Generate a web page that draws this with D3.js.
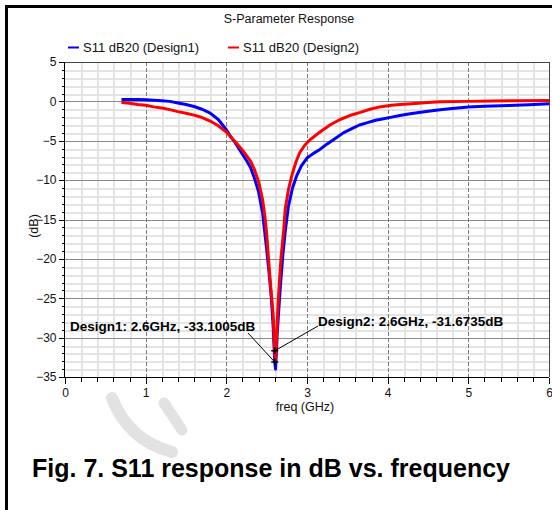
<!DOCTYPE html>
<meta charset="utf-8">
<html>
<style>
body { margin: 0; background: #fff; }
text { font-family: Arial, "Liberation Sans", sans-serif; }
.tick-label { font-size: 12px; fill: #111; }
.note { font-size: 13.5px; font-weight: bold; fill: #000; }
</style>
<svg width="552" height="510"></svg>
<script src="https://d3js.org/d3.v7.min.js"></script>
<script>
// S11 (dB) vs frequency
var freq1 = [0.70, 0.80, 0.90, 1.00, 1.10, 1.20, 1.30, 1.40, 1.50, 1.60, 1.70, 1.80, 1.90, 2.00, 2.05, 2.10,
  2.15, 2.20, 2.25, 2.30, 2.35, 2.40, 2.45, 2.50, 2.53, 2.56, 2.58, 2.60, 2.61, 2.62, 2.63, 2.65, 2.67,
  2.70, 2.73, 2.77, 2.82, 2.87, 2.93, 3.00, 3.08, 3.16, 3.25, 3.35, 3.45, 3.55, 3.65, 3.75, 3.85, 3.95,
  4.05, 4.15, 4.30, 4.50, 4.65, 4.80, 5.00, 5.20, 5.50, 5.75, 6.00];
var s11Design1 = [0.25, 0.25, 0.25, 0.2, 0.15, 0.08, 0.0, -0.2, -0.4, -0.65, -1.0, -1.5, -2.3, -3.6, -4.4, -5.1,
  -5.9, -6.7, -7.5, -8.4, -9.8, -11.5, -14.2, -18.8, -21.8, -25.2, -28.5, -33.1, -34.0, -32.0, -29.7, -26.5, -23.5,
  -19.6, -16.5, -13.3, -11.0, -9.5, -8.2, -7.2, -6.6, -6.1, -5.4, -4.7, -4.0, -3.5, -3.0, -2.7, -2.4, -2.2,
  -2.0, -1.8, -1.55, -1.25, -1.05, -0.9, -0.72, -0.62, -0.52, -0.42, -0.3];

var freq2 = [0.70, 0.80, 0.90, 1.00, 1.10, 1.20, 1.30, 1.40, 1.50, 1.60, 1.70, 1.80, 1.90, 2.00, 2.05, 2.10,
  2.15, 2.20, 2.25, 2.30, 2.35, 2.40, 2.45, 2.48, 2.50, 2.52, 2.55, 2.58, 2.60, 2.61, 2.62, 2.64, 2.66, 2.68,
  2.71, 2.73, 2.77, 2.81, 2.86, 2.91, 2.97, 3.04, 3.12, 3.20, 3.30, 3.41, 3.53, 3.66, 3.78, 3.90, 4.05,
  4.15, 4.30, 4.50, 4.65, 5.00, 5.30, 5.60, 6.00];
var s11Design2 = [-0.15, -0.25, -0.4, -0.5, -0.7, -0.85, -1.05, -1.3, -1.5, -1.75, -2.05, -2.5, -3.1, -3.9, -4.45, -5.0,
  -5.6, -6.2, -6.9, -7.6, -8.7, -10.2, -12.5, -14.8, -16.8, -19.6, -23.5, -27.0, -31.67, -32.8, -30.5, -26.0, -22.5, -19.6,
  -16.5, -13.7, -11.2, -9.5, -7.8, -6.5, -5.6, -4.85, -4.2, -3.6, -2.9, -2.3, -1.8, -1.4, -1.0, -0.7, -0.5,
  -0.4, -0.3, -0.15, -0.05, 0.0, 0.05, 0.08, 0.1];

var seriesNames = ["S11 dB20 (Design1)", "S11 dB20 (Design2)"];
var markerFreq = [2.6, 2.6];
var markerDb = [-33.1005, -31.6735];
var markerText = ["Design1: 2.6GHz, -33.1005dB", "Design2: 2.6GHz, -31.6735dB"];

var svg = d3.select("svg");
var pLeft = 65, pRight = 549, pTop = 62, pBottom = 377;

var x = d3.scaleLinear().domain([0, 6]).range([pLeft, pRight]);
var y = d3.scaleLinear().domain([-35, 5]).range([pBottom, pTop]);

// outer frame (only top and left show)
svg.append("path")
  .attr("d", "M6.5,510 V6.5 H552")
  .attr("fill", "none").attr("stroke", "#000").attr("stroke-width", 3);

// grid
var grid = svg.append("g").attr("shape-rendering", "crispEdges");
grid.selectAll(".vmin").data(d3.range(0, 6.01, 0.2).filter(d => Math.abs(d - Math.round(d)) > 1e-6))
  .join("line")
  .attr("x1", d => Math.round(x(d)) + 0.5).attr("x2", d => Math.round(x(d)) + 0.5)
  .attr("y1", pTop).attr("y2", pBottom)
  .attr("stroke", "#e4e4e4").attr("stroke-width", 2);
grid.selectAll(".hmin").data(d3.range(-35, 5.01, 1).filter(d => d % 5 !== 0))
  .join("line")
  .attr("y1", d => Math.round(y(d)) + 0.5).attr("y2", d => Math.round(y(d)) + 0.5)
  .attr("x1", pLeft).attr("x2", pRight)
  .attr("stroke", "#e4e4e4").attr("stroke-width", 2);
grid.selectAll(".hmaj").data(d3.range(-30, 5, 5))
  .join("line")
  .attr("y1", d => Math.round(y(d)) + 0.5).attr("y2", d => Math.round(y(d)) + 0.5)
  .attr("x1", pLeft).attr("x2", pRight)
  .attr("stroke", "#8a8a8a");
grid.selectAll(".vmaj").data(d3.range(1, 6, 1))
  .join("line")
  .attr("x1", d => Math.round(x(d)) + 0.5).attr("x2", d => Math.round(x(d)) + 0.5)
  .attr("y1", pTop).attr("y2", pBottom)
  .attr("stroke", "#7a7a7a").attr("stroke-dasharray", "4,2");

// plot frame top/right
svg.append("path")
  .attr("d", `M${pLeft},${pTop + 0.5} H${pRight + 0.5} V${pBottom}`)
  .attr("fill", "none").attr("stroke", "#444").attr("shape-rendering", "crispEdges");

// axes
var xAxis = svg.append("g")
  .attr("transform", `translate(0,${pBottom + 0.5})`)
  .call(d3.axisBottom(x).tickValues(d3.range(0, 7, 1)).tickSize(6).tickPadding(5).tickFormat(d3.format("d")));
svg.append("g")
  .attr("transform", `translate(0,${pBottom + 0.5})`)
  .call(d3.axisBottom(x).tickValues(d3.range(0, 6.01, 0.2)).tickSize(4).tickFormat(""))
  .call(g => g.select(".domain").remove());

var yAxis = svg.append("g")
  .attr("transform", `translate(${pLeft - 0.5},0)`)
  .call(d3.axisLeft(y).tickValues(d3.range(-35, 6, 5)).tickSize(6).tickPadding(2).tickFormat(d3.format("d")));
svg.append("g")
  .attr("transform", `translate(${pLeft - 0.5},0)`)
  .call(d3.axisLeft(y).tickValues(d3.range(-35, 5.01, 1)).tickSize(3).tickFormat(""))
  .call(g => g.select(".domain").remove());

svg.selectAll(".tick text").attr("class", "tick-label").attr("font-family", null).attr("font-size", null);
svg.selectAll(".domain, .tick line").attr("stroke", "#000").attr("shape-rendering", "crispEdges");
xAxis.select(".domain").attr("d", `M${pLeft},0H${pRight}`);
yAxis.select(".domain").attr("d", `M0,${pTop}V${pBottom}`);

// axis titles
svg.append("text").attr("x", 305).attr("y", 411).attr("text-anchor", "middle")
  .attr("font-size", 12.5).attr("fill", "#111").text("freq (GHz)");
svg.append("text").attr("transform", "translate(38,226) rotate(-90)").attr("text-anchor", "middle")
  .attr("font-size", 12.5).attr("fill", "#111").text("(dB)");

// title and legend
svg.append("text").attr("x", 289).attr("y", 23).attr("text-anchor", "middle")
  .attr("font-size", 12.5).attr("fill", "#111").text("S-Parameter Response");

var colors = ["#0000ff", "#ff0000"];
var legX = [68, 228];
var leg = svg.append("g").selectAll("g").data(seriesNames).join("g")
  .attr("transform", (d, i) => `translate(${legX[i]},47)`);
leg.append("line").attr("x1", 0).attr("x2", 11).attr("y1", 0.5).attr("y2", 0.5)
  .attr("stroke", (d, i) => colors[i]).attr("stroke-width", 2);
leg.append("text").attr("x", 15).attr("y", 4.5).attr("font-size", 13).attr("fill", "#111").text(d => d);

// curves
var line = d3.line().x(d => x(d[0])).y(d => y(d[1]));
var data1 = freq1.map((f, i) => [f, s11Design1[i]]);
var data2 = freq2.map((f, i) => [f, s11Design2[i]]);
var plot = svg.append("g");
plot.append("path").datum(data1).attr("d", line)
  .attr("fill", "none").attr("stroke", colors[0]).attr("stroke-width", 3).attr("stroke-linejoin", "round");
plot.append("path").datum(data2).attr("d", line)
  .attr("fill", "none").attr("stroke", colors[1]).attr("stroke-width", 3).attr("stroke-linejoin", "round");

// markers + annotations
var notePos = [[70, 331], [318, 326]];
var noteAnchor = [[248, 333], [318, 326]];
markerFreq.forEach(function(f, i) {
  var mx = x(f), my = y(markerDb[i]);
  svg.append("line").attr("x1", noteAnchor[i][0]).attr("y1", noteAnchor[i][1])
    .attr("x2", mx).attr("y2", my).attr("stroke", "#000").attr("stroke-width", 1);
  svg.append("path").attr("d", `M${mx - 3.5},${my}H${mx + 3.5}M${mx},${my - 3.5}V${my + 3.5}`)
    .attr("stroke", "#000").attr("stroke-width", 1.5);
  svg.append("text").attr("class", "note").attr("x", notePos[i][0]).attr("y", notePos[i][1])
    .text(markerText[i]);
});

// caption
svg.append("text").attr("x", 271).attr("y", 477).attr("text-anchor", "middle")
  .attr("font-size", 25).attr("font-weight", "bold").attr("fill", "#000")
  .text("Fig. 7. S11 response in dB vs. frequency");

// faint watermark strokes
svg.append("path").attr("d", "M112,398 Q128,440 172,452")
  .attr("fill", "none").attr("stroke", "#e2e2e2").attr("stroke-width", 12).attr("stroke-linecap", "round");
svg.append("path").attr("d", "M164,403 L182,430")
  .attr("fill", "none").attr("stroke", "#e2e2e2").attr("stroke-width", 11).attr("stroke-linecap", "round");
</script>
</html>
